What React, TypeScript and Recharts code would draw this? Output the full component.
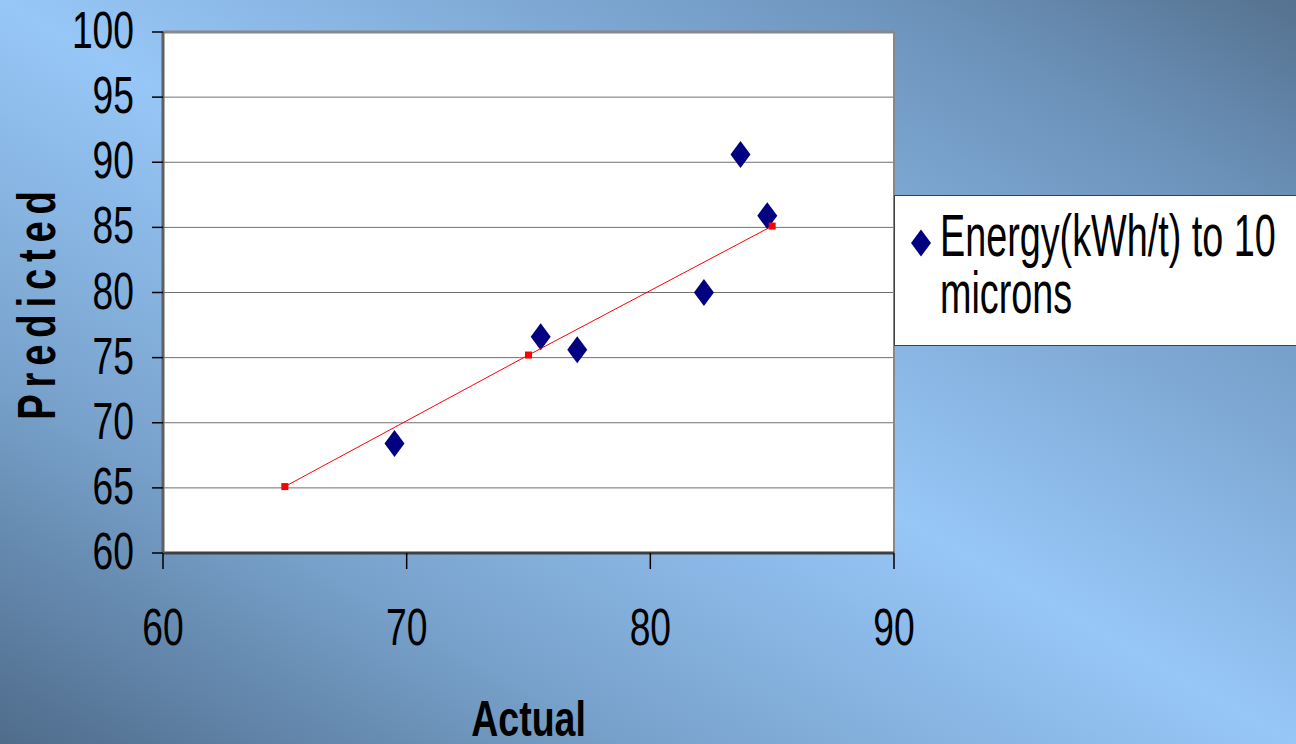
import React from "react";
import {
  CartesianGrid,
  Legend,
  ReferenceLine,
  Scatter,
  ScatterChart,
  XAxis,
  YAxis,
} from "recharts";

const actual = [69.5, 75.5, 77.0, 82.2, 83.7, 84.8];
const predicted = [68.4, 76.6, 75.6, 80.0, 90.6, 85.9];
const fitActual = [65, 75, 85];
const fitPredicted = [65.1, 75.2, 85.1];
const xTicks = [60, 70, 80, 90];
const yTicks = [60, 65, 70, 75, 80, 85, 90, 95, 100];
const legendLines = ["Energy(kWh/t) to 10", "microns"];

const FONT = "'Liberation Sans', Arial, sans-serif";

const points = actual.map((x, i) => ({ x, y: predicted[i] }));
const fitPoints = fitActual.map((x, i) => ({ x, y: fitPredicted[i] }));

function Diamond({ cx, cy }: any) {
  return (
    <polygon
      points={`${cx},${cy - 13.5} ${cx + 10},${cy} ${cx},${cy + 13.5} ${cx - 10},${cy}`}
      fill="#000080"
    />
  );
}

function RedSquare({ cx, cy }: any) {
  return <rect x={cx - 3.5} y={cy - 3.5} width={7} height={7} fill="#ff0000" />;
}

function YTick({ x, y, payload }: any) {
  return (
    <g transform={`translate(${x - 18},${y + 16}) scale(0.73,1)`}>
      <text x={0} y={0} textAnchor="end" fontSize={51} fontFamily={FONT} fill="#000">
        {payload.value}
      </text>
    </g>
  );
}

function XTick({ x, y, payload }: any) {
  return (
    <g transform={`translate(${x},${y + 76}) scale(0.73,1)`}>
      <text x={0} y={0} textAnchor="middle" fontSize={51} fontFamily={FONT} fill="#000">
        {payload.value}
      </text>
    </g>
  );
}

function ActualLabel({ viewBox }: any) {
  const cx = viewBox.x + viewBox.width / 2;
  return (
    <g transform={`translate(${cx},${viewBox.y + 183}) scale(0.75,1)`}>
      <text textAnchor="middle" fontSize={50} fontWeight="bold" fontFamily={FONT} fill="#000">
        Actual
      </text>
    </g>
  );
}

function PredictedLabel({ viewBox }: any) {
  const cy = viewBox.y + viewBox.height / 2 + 9.5;
  return (
    <g transform={`translate(55,${cy}) rotate(-90) scale(0.72,1)`}>
      <text
        textAnchor="middle"
        fontSize={53}
        fontWeight="bold"
        letterSpacing={9.5}
        fontFamily={FONT}
        fill="#000"
      >
        Predicted
      </text>
    </g>
  );
}

function LegendBox() {
  return (
    <svg width={410} height={152} style={{ display: "block" }}>
      <rect x={0.5} y={0.5} width={420} height={150} fill="#fff" stroke="#404040" strokeWidth={1} />
      <Diamond cx={27} cy={48} />
      {legendLines.map((line, i) => (
        <g key={line} transform={`translate(46,${61 + i * 57}) scale(0.64,1)`}>
          <text fontSize={59} fontFamily={FONT} fill="#000">
            {line}
          </text>
        </g>
      ))}
    </svg>
  );
}

export default function App() {
  return (
    <div
      style={{
        position: "absolute",
        left: 0,
        top: 0,
        width: 1296,
        height: 744,
        overflow: "hidden",
        background:
          "linear-gradient(to top right, #4f6c8b 0%, #78a2cc 25%, #97c7f7 50%, #6c92ba 85%, #55728f 100%)",
      }}
    >
      <ScatterChart
        width={1296}
        height={744}
        margin={{ top: 32, right: 402, bottom: 0, left: 0 }}
      >
        <CartesianGrid
          vertical={false}
          fill="#ffffff"
          stroke="#707070"
          strokeWidth={1}
        />
        <XAxis
          type="number"
          dataKey="x"
          domain={[60, 90]}
          ticks={xTicks}
          height={191}
          tickSize={16}
          tickMargin={0}
          tickLine={{ stroke: "#000", strokeWidth: 1.5 }}
          axisLine={{ stroke: "#404040", strokeWidth: 3 }}
          tick={<XTick />}
          label={{ content: (p: any) => <ActualLabel {...p} /> }}
        />
        <YAxis
          type="number"
          dataKey="y"
          domain={[60, 100]}
          ticks={yTicks}
          width={163}
          tickSize={11}
          tickMargin={0}
          tickLine={{ stroke: "#000", strokeWidth: 1.5 }}
          axisLine={{ stroke: "#606060", strokeWidth: 3 }}
          tick={<YTick />}
          label={{ content: (p: any) => <PredictedLabel {...p} /> }}
        />
        <ReferenceLine y={100} stroke="#888888" strokeWidth={3} />
        <ReferenceLine x={90} stroke="#888888" strokeWidth={2} />
        <Legend
          layout="horizontal"
          verticalAlign="middle"
          align="center"
          wrapperStyle={{ left: 894, top: 195, width: 410, height: 152 }}
          content={() => <LegendBox />}
        />
        <Scatter
          name="Energy(kWh/t) to 10 microns"
          data={points}
          shape={<Diamond />}
          isAnimationActive={false}
        />
        <Scatter
          name="fit"
          data={fitPoints}
          line={{ stroke: "#ff0000", strokeWidth: 1 }}
          shape={<RedSquare />}
          legendType="none"
          isAnimationActive={false}
        />
      </ScatterChart>
    </div>
  );
}
